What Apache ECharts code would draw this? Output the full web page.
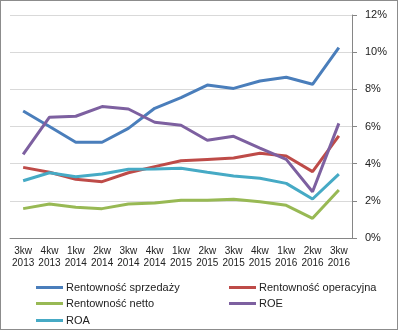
<!DOCTYPE html>
<html><head><meta charset="utf-8">
<script src="https://cdn.jsdelivr.net/npm/echarts@6/dist/echarts.min.js"></script>
<style>html,body{margin:0;padding:0;background:#fff}#c{width:398px;height:330px;box-sizing:border-box;border:1px solid #8c8c8c}</style>
</head><body><div id="c"></div>
<script>
var categories = ['3kw\n2013','4kw\n2013','1kw\n2014','2kw\n2014','3kw\n2014','4kw\n2014','1kw\n2015','2kw\n2015','3kw\n2015','4kw\n2015','1kw\n2016','2kw\n2016','3kw\n2016'];
var sprzedazy  = [6.83, 6.0, 5.15, 5.15, 5.9, 6.98, 7.55, 8.23, 8.05, 8.45, 8.65, 8.27, 10.24];
var operacyjna = [3.8, 3.54, 3.16, 3.03, 3.51, 3.84, 4.16, 4.23, 4.3, 4.56, 4.41, 3.57, 5.49];
var netto      = [1.58, 1.83, 1.65, 1.58, 1.83, 1.88, 2.03, 2.03, 2.08, 1.95, 1.76, 1.06, 2.58];
var roe        = [4.5, 6.5, 6.55, 7.07, 6.94, 6.23, 6.07, 5.26, 5.47, 4.84, 4.23, 2.49, 6.17];
var roa        = [3.08, 3.51, 3.3, 3.44, 3.7, 3.71, 3.75, 3.54, 3.34, 3.21, 2.94, 2.1, 3.44];
var yTicks = [0, 2, 4, 6, 8, 10, 12];

var names = ['Rentowność sprzedaży','Rentowność operacyjna','Rentowność netto','ROE','ROA'];
var colors = ['#4A7EBB','#BE4B48','#98B954','#7D60A0','#46AAC5'];
var datas = [sprzedazy, operacyjna, netto, roe, roa];
var font = 'Liberation Sans';
var legendPos = [[30,276],[223,276],[30,292],[223,292],[30,309]];

var chart = echarts.init(document.getElementById('c'), null, {renderer:'canvas'});
chart.setOption({
  animation:false,
  textStyle:{fontFamily:font},
  grid:{left:9, right:45, top:14, bottom:91, containLabel:false},
  legend: names.map(function(n,i){return {
    data:[n], left:legendPos[i][0], top:legendPos[i][1], itemWidth:27, itemHeight:3, itemGap:4,
    icon:'rect', textStyle:{fontSize:11, color:'#222', fontFamily:font, padding:[0,0,0,-2]}
  };}),
  xAxis:{type:'category', data:categories, boundaryGap:true,
    axisLine:{lineStyle:{color:'#868686'}},
    axisTick:{interval:0, length:5, lineStyle:{color:'#868686'}},
    axisLabel:{interval:0, fontSize:10, lineHeight:12, color:'#222', margin:7, fontFamily:font}},
  yAxis:{type:'value', position:'right', min:yTicks[0], max:yTicks[yTicks.length-1], interval:2,
    axisLine:{show:true, lineStyle:{color:'#868686'}},
    axisTick:{show:true, length:5, lineStyle:{color:'#868686'}},
    splitLine:{lineStyle:{color:'#d9d9d9'}},
    axisLabel:{formatter:'{value}%', fontSize:11, color:'#222', margin:13, fontFamily:font}},
  series: names.map(function(n,i){return {
    name:n, type:'line', data:datas[i], showSymbol:false, symbol:'none',
    lineStyle:{width:3, color:colors[i]}, itemStyle:{color:colors[i]}
  };})
});
</script></body></html>
